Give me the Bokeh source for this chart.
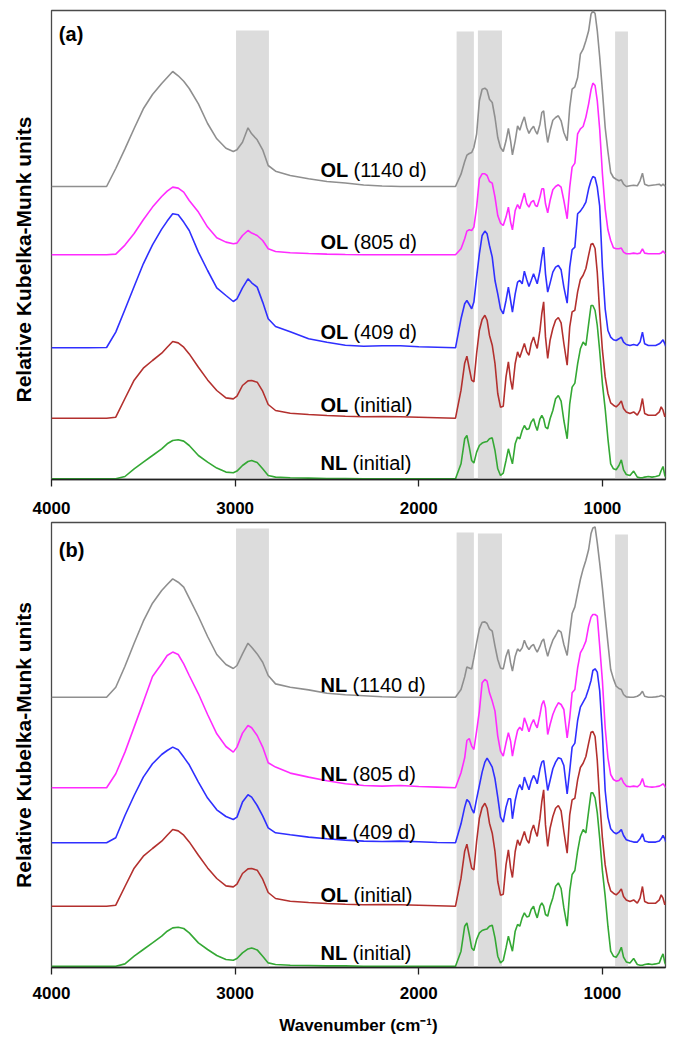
from bokeh.plotting import figure
from bokeh.layouts import column
from bokeh.models import Range1d, FixedTicker, ColumnDataSource
from bokeh.core.properties import value
from bokeh.embed import file_html
from bokeh.resources import INLINE

# ---------------- data ----------------
wn_hi = [4000, 3800, 3700, 3650, 3600, 3550, 3500, 3450, 3400, 3370, 3340, 3310,
         3280, 3250, 3200, 3150, 3100, 3050, 3010, 2990, 2960, 2930, 2910, 2880,
         2850, 2820, 2780, 2700, 2600, 2500, 2400, 2300, 2200, 2100, 2000, 1900]
wn_fp = [1800, 1770, 1750, 1738, 1725, 1712, 1700, 1685, 1670, 1655,
         1640, 1628, 1615, 1600, 1585, 1570, 1555, 1540, 1525, 1512,
         1500, 1490, 1475, 1462, 1450, 1437, 1425, 1412, 1400, 1388,
         1375, 1365, 1355, 1340, 1330, 1320, 1310, 1298, 1285, 1270,
         1255, 1240, 1225, 1210, 1192, 1178, 1165, 1150, 1135, 1120,
         1105, 1090, 1075, 1062, 1052, 1040, 1028, 1015, 1000, 985,
         970, 955, 940, 925, 910, 897, 885, 870, 850, 830,
         810, 795, 782, 770, 750, 730, 710, 690, 680, 670, 660, 655]
wavenumber = wn_hi + wn_fp

# relative heights of each spectrum above its own baseline
nl_initial = [0, 0, 0, 0, 2.3, 10, 16.7, 23.3, 30, 35, 38.3, 39, 37.7, 33.3, 23.3, 16.7, 10.7, 6.7,
              6, 7.7, 13.3, 17.3, 18.3, 16.3, 10, 3.3, 1.7, 1, 0.7, 0.3, 0.3, 0, 0, 0, 0, 0] + \
             [0, 15, 40, 43.3, 31.7, 18.3, 15.7, 26.7, 33.3, 35.7,
              36.7, 37.3, 40, 41, 28.3, 10, 3.3, 5.7, 18.3, 30,
              21.7, 15, 35, 41.7, 40, 48.3, 53.3, 49.3, 50, 56.7,
              60, 53.3, 48.3, 60, 63.3, 60, 51.7, 50, 60, 68.3,
              80, 83.3, 77.7, 58.3, 40, 75, 91.7, 95.7, 115, 130,
              136.7, 133.3, 155, 173.3, 173.3, 168.3, 153.3, 128.3, 95, 70,
              40, 15, 10, 9, 13.3, 19, 9, 4.3, 3.3, 7.7,
              1.7, 1, 1, 1.7, 2.3, 1.7, 2.3, 3.3, 8.3, 12.3, 3.3, 1.7]
ol_initial = [0, 0, 0, 1, 19.7, 38, 50, 57.7, 65, 71, 76.7, 75.3, 71, 64.3, 51, 38.3, 27.7, 20.3,
              19.3, 22, 32.7, 37.3, 37.7, 36, 27, 13.7, 7.7, 5, 3.7, 2.7, 2, 1.5, 1.7, 1.5, 1, 0.5] + \
             [0, 28, 55, 62, 49.7, 38, 36.3, 64.7, 88, 98.7,
              103, 98, 83, 73, 54.7, 24.7, 11, 12, 41.3, 56.3,
              38, 28.7, 54.7, 66.3, 60.7, 68, 74.7, 66.3, 63, 74.7,
              81.3, 74.7, 69.7, 88, 104.7, 116.3, 81.3, 59.7, 78, 89.7,
              98, 100.7, 95.3, 74.7, 53, 91.3, 106.3, 108, 126.3, 138.7,
              143, 149.7, 163, 174, 174.7, 169.7, 145.7, 106, 68, 41.3,
              24.7, 15.3, 13, 11.3, 14, 17.3, 9.7, 6.3, 4.7, 6.3,
              3, 8, 19.7, 4.7, 3, 3, 3, 6.3, 11.3, 8, 1.3, 4.7]
ol_409 = [0, 0, 0.3, 15.7, 38.3, 61.3, 84, 103, 118.7, 126.7, 134, 133, 125.7, 117.3, 95.7, 77.3,
          60, 52.3, 46.3, 49, 60, 69, 65, 60.7, 45.7, 29, 21.3, 16, 9, 5.5, 2.5, 1.5, 2, 2, 1, 0.5] + \
         [0, 29, 44, 47.3, 43.3, 39, 45.7, 70.7, 94, 112.3,
          116.7, 114, 102.3, 90.7, 67.3, 54, 39, 34, 47.3, 60.7,
          47.3, 35.7, 54, 65.7, 67.3, 64, 76.7, 68, 61.3, 67.3,
          74, 69, 64, 77.3, 90.7, 100.7, 74, 55.7, 64.7, 75.7,
          80.7, 82.3, 78, 60.7, 44.7, 80.7, 98, 100.7, 134, 136.7,
          140.7, 145.7, 159, 167.3, 171.3, 170, 160.7, 142, 80.7, 39,
          17.3, 10.7, 8, 7.3, 9, 10.7, 5.7, 3.3, 2.3, 3.3,
          2.3, 5.7, 15.7, 4, 2.3, 2.3, 2.3, 4, 5.7, 8, 4, 1.3]
ol_805 = [0, 0, 0, 0.7, 9.7, 21.3, 35, 47.7, 58.3, 63.7, 67.7, 66.7, 62.7, 54.3, 42.7, 27.7, 17,
          12.7, 11, 11.7, 19.3, 24.3, 21.7, 19.3, 14.3, 6, 3.3, 2, 1.3, 0.7, 0.3, 0, 0, 0, 0, 0] + \
         [0, 6, 16, 23.7, 25, 24.3, 27.7, 47.7, 76, 81,
          81, 79.3, 73.3, 71.7, 57.7, 39.3, 31.7, 29.3, 37.7, 47.7,
          32.7, 25, 44.3, 50.3, 46, 54.3, 61.7, 51, 47.7, 52.7,
          54.3, 49.3, 48.3, 57.7, 66, 66, 51, 42, 54.3, 65,
          68.3, 70, 67.7, 54.3, 36, 67.7, 87.7, 91.7, 121, 126,
          128.3, 137.7, 151, 165, 171.7, 169.3, 154, 126, 81, 46,
          25, 14.3, 7, 6, 6, 6.7, 2.7, 1, 1, 1.7,
          1, 1.7, 6, 1.7, 1, 1, 1, 1, 1.7, 3.7, 1.7, 1]
ol_1140 = [0, 0, 0, 18, 37.7, 58, 77.7, 92, 103, 109, 115, 110.7, 105.3, 98, 82.7, 63, 47.7, 38.3,
           35, 36.7, 44.3, 58.7, 52.7, 46.7, 36.7, 21, 15.3, 11, 7.7, 5, 3.5, 1.5, 0.5, 0, 0, 0] + \
          [0, 12.3, 25, 31.3, 33, 34, 39, 52.3, 85.7, 97.3,
           98.3, 96.3, 87.3, 84, 69, 49, 39, 35, 45.7, 58,
           45.7, 31.7, 45.7, 60.7, 56.3, 64, 69.7, 59, 53, 57.3,
           60.3, 55.7, 52.3, 62.3, 74, 75.7, 59, 44, 55.7, 66.3,
           69, 70.7, 65.7, 54, 45.7, 79, 97.3, 99.7, 109, 132.3,
           137.3, 145.7, 155.7, 172.3, 175.7, 173, 155.7, 130, 95.7, 59,
           35, 14, 9, 7.3, 5.7, 6.7, 2.3, 0, 0.7, 1.3,
           0.7, 5.7, 13.3, 2.3, 0.7, 1.3, 1.7, 2.3, 0.7, 2.3, 0.7, 0.7]
nl_409 = [0, 0, 0, 5, 27.3, 47.3, 65.7, 79, 88.3, 92.3, 95.7, 93, 85.7, 78, 60.7, 44.7, 33, 26.3,
          23.3, 25.7, 40.7, 48, 45.7, 37.3, 27, 15, 10, 8, 5.7, 4, 2.7, 1.7, 1.3, 1.7, 1, 0.3] + \
         [0, 19, 35.7, 43.3, 40.7, 34, 29.7, 44, 57.3, 70.7,
          80.7, 84.7, 80.7, 75.7, 64, 45.7, 25.7, 20.7, 35.7, 44,
          44, 24, 42.3, 53, 58.3, 53, 65.7, 59, 53, 61.7,
          67.3, 64, 59, 74, 80.7, 82.3, 69, 52.3, 62.3, 74,
          80.7, 85, 84, 77.3, 49, 72.3, 95.7, 99.7, 122.3, 135.7,
          140.7, 145.7, 154, 162.3, 172.3, 174, 170.7, 152.3, 109, 52.3,
          25.7, 14, 10.7, 9, 10.7, 13.3, 7.3, 3, 1.7, 0.7,
          0.7, 4, 9, 1.7, 0.7, 0.7, 0.7, 1.7, 4, 7.3, 4, 0.7]
nl_805 = [0, 0, 0, 14, 35.7, 60.7, 85.7, 111.3, 124, 132.3, 135.7, 133.3, 124, 112.3, 94, 73.3, 54,
          41.3, 35.7, 40.7, 54.7, 62.3, 60, 52.3, 40.7, 25, 20.7, 14.7, 10.7, 7, 4, 2.3, 1.7, 2.3, 1.3, 0.7] + \
         [0, 15, 30, 47.3, 49.3, 41.7, 38.3, 56.7, 76.7, 105,
          108.3, 106.7, 95, 86.7, 76.7, 51.7, 36.7, 31.7, 45, 55,
          46.7, 31.7, 46.7, 57.3, 60.7, 57.3, 70, 63.3, 56, 63.3,
          68.3, 63.3, 60, 73.3, 83.3, 87.3, 80, 53.3, 63.3, 73.3,
          80, 85, 83.3, 78.3, 50, 70, 95, 98.3, 120, 135,
          140, 146.7, 161.7, 170.7, 173.3, 173.3, 171.7, 142, 106.7, 60,
          30, 13.3, 8.3, 6.7, 7.3, 10, 5, 1.7, 1, 1.7,
          1, 3.3, 9.3, 1.7, 1, 0.7, 1, 1.7, 2.7, 4, 1.7, 0]
nl_1140 = [0, 0, 0, 10, 31, 54, 76, 94, 106.7, 112.7, 118.3, 115, 110, 99, 80.7, 60.7, 42.7, 32.7,
           28.7, 31.7, 43.3, 54, 50, 43.3, 35, 21.7, 13.3, 10, 7.3, 4, 2.5, 1.5, 0.5, 0, 0, 0] + \
          [0, 7.7, 20.3, 30.3, 29.3, 28.3, 39.3, 54.3, 68.3, 75,
           75.3, 73.7, 68.3, 66, 51, 37.7, 29.3, 28.3, 41, 47.7,
           34.3, 26, 41, 48.3, 46, 49.3, 57, 51, 47.7, 51,
           52.7, 48.3, 45, 51, 56, 58.3, 49.3, 41, 49.3, 57,
           61.7, 67, 65, 52.7, 41.7, 64.3, 83.7, 90.3, 104.3, 117.7,
           128.3, 137, 147.7, 163.7, 169.3, 170.3, 154.3, 134.3, 109, 81,
           54, 27.7, 18.3, 11, 8.7, 7.7, 2.7, 0.3, 0, 0,
           1, 2.7, 6, 1, 0, 0, 0.3, 1, 1.7, 1, 0.3, 0.3]

for s in (nl_initial, ol_initial, ol_409, ol_805, ol_1140, nl_409, nl_805, nl_1140):
    assert len(s) == len(wavenumber), len(s)

# (bold name, age, spectrum, stacking baseline, colour, label baseline)
series_a = [("OL", "(1140 d)", ol_1140, 293.0, "#8f8f8f", 309.7),
            ("OL", "(805 d)", ol_805, 224.7, "#ff2bff", 237.3),
            ("OL", "(409 d)", ol_409, 131.7, "#2f2fff", 147.3),
            ("OL", "(initial)", ol_initial, 61.3, "#b3302e", 75.0),
            ("NL", "(initial)", nl_initial, 0.7, "#34a834", 16.7)]
series_b = [("NL", "(1140 d)", nl_1140, 270.3, "#8f8f8f", 283.0),
            ("NL", "(805 d)", nl_805, 179.7, "#ff2bff", 193.7),
            ("NL", "(409 d)", nl_409, 124.7, "#2f2fff", 135.3),
            ("OL", "(initial)", ol_initial, 61.3, "#b3302e", 73.0),
            ("NL", "(initial)", nl_initial, 1.3, "#34a834", 14.7)]

# shaded band limits (cm-1)
band_hi = [2995, 1794, 1678, 931]
band_lo = [2816, 1700, 1547, 861]

x_ticks = [4000, 3000, 2000, 1000]
y_title = "Relative Kubelka-Munk units"

FONT = "Liberation Sans"


def make_panel(series, tag, tag_y, frame_h, top_border, band_tops, bottom_border,
               xlabel, tick_standoff, ytitle):
    p = figure(width=674, height=top_border + frame_h + bottom_border,
               x_range=Range1d(4000, 656.5), y_range=Range1d(0, frame_h),
               output_backend="svg", toolbar_location=None,
               min_border_left=51, min_border_right=9, min_border_top=top_border,
               min_border_bottom=bottom_border)
    p.xgrid.visible = False
    p.ygrid.visible = False
    p.outline_line_color = "#4a4a4a"
    p.outline_line_width = 1.3
    p.background_fill_color = "white"

    p.quad(left=band_hi, right=band_lo, bottom=[0] * 4, top=band_tops,
           fill_color="#dcdcdc", line_color=None)

    for bold, reg, vals, off, col, ly in series:
        ys = [off + v for v in vals]
        p.line(wavenumber, ys, line_color=col, line_width=1.6)

    src = ColumnDataSource(dict(
        x=[2535] * len(series),
        y=[s[5] for s in series],
        b=[s[0] for s in series],
        r=[s[1] for s in series],
        off=[33 if s[0] == "OL" else 32 for s in series]))
    p.text(x="x", y="y", text="b", source=src, text_font=value(FONT),
           text_font_style="bold", text_font_size="20px", text_color="black",
           text_baseline="alphabetic", text_align="left")
    p.text(x="x", y="y", text="r", source=src, x_offset="off", text_font=value(FONT),
           text_font_size="20px", text_color="black",
           text_baseline="alphabetic", text_align="left")

    p.text(x=[3960], y=[tag_y], text=[tag], text_font=value(FONT), text_font_style="bold",
           text_font_size="20px", text_color="black", text_baseline="alphabetic",
           text_align="left")

    ax = p.xaxis[0]
    ax.ticker = FixedTicker(ticks=x_ticks)
    ax.major_label_overrides = {t: str(t) for t in x_ticks}
    ax.major_tick_out = 7
    ax.major_tick_in = 0
    ax.minor_tick_line_color = None
    ax.major_tick_line_color = "#222222"
    ax.major_tick_line_width = 1.3
    ax.axis_line_color = "#222222"
    ax.axis_line_width = 1.3
    ax.major_label_text_font = FONT
    ax.major_label_text_font_style = "bold"
    ax.major_label_text_font_size = "17px"
    ax.major_label_text_color = "black"
    ax.major_label_standoff = tick_standoff
    if xlabel:
        ax.axis_label = xlabel
        ax.axis_label_text_font = FONT
        ax.axis_label_text_font_style = "bold"
        ax.axis_label_text_font_size = "17px"
        ax.axis_label_text_color = "black"
        ax.axis_label_standoff = 14

    ay = p.yaxis[0]
    ay.ticker = FixedTicker(ticks=[])
    ay.major_tick_out = 0
    ay.major_tick_in = 0
    ay.minor_tick_line_color = None
    ay.major_tick_line_color = None
    ay.axis_line_color = None
    ay.major_label_standoff = 0
    ay.axis_label = ytitle
    ay.axis_label_text_font = FONT
    ay.axis_label_text_font_style = "bold"
    ay.axis_label_text_font_size = "21px"
    ay.axis_label_text_color = "black"
    ay.axis_label_standoff = 17
    return p


# panel (a): title sits a little below the frame centre (padded with no-break spaces)
p1 = make_panel(series_a, "(a)", 446, 469, 10, [449, 448, 449, 448], 42, None, 15,
                y_title + "\u00a0" * 5)
p2 = make_panel(series_b, "(b)", 418, 445, 1, [439, 435, 434, 433], 72,
                "Wavenumber (cm\u207b\u00b9)", 12, y_title)

layout = column(p1, p2, spacing=0)
open("out.html", "w").write(file_html(layout, INLINE))
